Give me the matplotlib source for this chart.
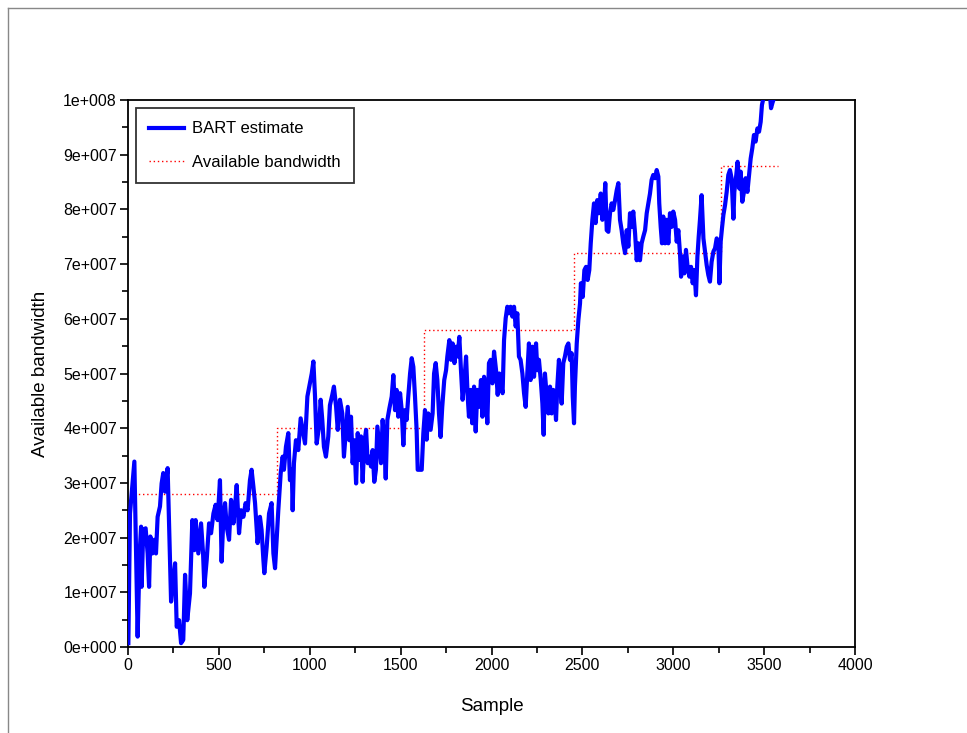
import matplotlib
matplotlib.use("Agg")
import matplotlib.pyplot as plt
from matplotlib.lines import Line2D
from matplotlib.ticker import FixedLocator, FixedFormatter, MultipleLocator

plt.rcParams['font.family'] = ['Liberation Sans', 'DejaVu Sans']

# ---- data ----
bart_sample = [
    2, 11, 35, 53, 64, 72, 75, 84, 97, 108, 116, 123, 134, 145, 154, 163, 176, 185, 194, 204,
    218, 226, 237, 249, 259, 268, 281, 292, 304, 314, 326, 341, 354, 365, 372, 387, 402, 413, 420, 433,
    446, 457, 470, 482, 493, 506, 515, 525, 534, 543, 556, 567, 580, 589, 598, 611, 622, 635, 647, 658,
    671, 680, 690, 699, 713, 726, 735, 745, 750, 763, 776, 790, 800, 809,
    827, 840, 851, 858, 869, 882, 891, 901, 906, 913, 924, 937, 950, 961, 974, 987, 1001, 1011, 1020, 1029,
    1038, 1051, 1060, 1069, 1078, 1089, 1102, 1111, 1124, 1133, 1145, 1154, 1166, 1179, 1188, 1199, 1209, 1218, 1227, 1236,
    1245, 1255, 1264, 1273, 1282, 1291, 1300, 1310, 1319, 1328, 1337, 1346, 1355, 1364, 1372, 1383, 1392, 1401, 1410, 1418,
    1427, 1438, 1451, 1460, 1469, 1478, 1487, 1497, 1506, 1515, 1524, 1533, 1542, 1552, 1561, 1570, 1579, 1588, 1594, 1603,
    1616, 1625, 1634, 1643, 1652, 1665, 1676, 1684, 1693, 1702, 1711, 1720, 1729, 1740, 1750, 1757, 1768, 1777, 1786, 1796,
    1805, 1814, 1823, 1832, 1841, 1851, 1860, 1869, 1876, 1885, 1894, 1904, 1913, 1922, 1933, 1942, 1950, 1959, 1968, 1977,
    1986, 1995, 2005, 2014, 2025, 2034, 2043, 2052, 2061, 2069, 2078, 2087, 2096, 2105, 2115, 2124, 2133, 2142, 2151, 2160,
    2170, 2179, 2188, 2197, 2206, 2215, 2225, 2234, 2245, 2252, 2261, 2271, 2280, 2287, 2294, 2304, 2313, 2322, 2331, 2340,
    2349, 2355, 2362, 2371,
    2386, 2395, 2404, 2414, 2423, 2432, 2441, 2447, 2454, 2459, 2469, 2478, 2487, 2492, 2502, 2511, 2520, 2529, 2538, 2546,
    2555, 2564, 2573, 2582, 2591, 2601, 2610, 2619, 2626, 2634, 2643, 2652, 2661, 2670, 2680, 2689, 2698, 2707, 2716, 2725,
    2735, 2744, 2753, 2762, 2771, 2780, 2790, 2799, 2808, 2817, 2826, 2835, 2845, 2854, 2863, 2872, 2881, 2890, 2900, 2909,
    2918, 2923, 2931, 2938, 2945, 2955, 2964, 2973, 2982, 2991, 3000, 3010, 3019, 3028, 3037, 3043, 3052, 3061, 3070, 3079,
    3089, 3098, 3107, 3116, 3125, 3133, 3140, 3147,
    3156, 3166, 3175, 3184, 3193, 3202, 3211, 3221, 3230, 3239, 3248, 3254, 3261, 3268, 3276, 3285, 3294, 3303, 3312, 3321,
    3331, 3336, 3345, 3354, 3364, 3371, 3380, 3389, 3398, 3408, 3417, 3426, 3435, 3444, 3453, 3463, 3472, 3481, 3488, 3496,
    3505, 3520, 3532, 3538, 3546, 3554, 3562,
]
bart_mbps = [
    0.7, 24.4, 33.9, 1.9, 17.1, 22.0, 11.0, 21.4, 21.7, 17.1, 11.0, 20.2, 17.1, 19.6, 17.1, 23.8, 25.7, 29.9, 31.8, 28.4,
    32.7, 22.6, 8.3, 12.3, 15.3, 3.7, 4.9, 0.7, 1.3, 13.2, 4.9, 9.8, 23.2, 17.7, 23.2, 17.1, 22.6, 17.1, 11.0, 15.9,
    22.6, 20.8, 24.4, 26.0, 23.2, 30.5, 15.6, 23.8, 26.3, 22.0, 19.6, 26.9, 22.6, 25.7, 29.6, 20.8, 25.0, 23.8, 26.3, 25.0,
    30.5, 32.4, 29.3, 26.3, 19.0, 23.8, 21.4, 15.9, 13.5, 18.3, 24.4, 26.3, 17.1, 14.4,
    25.0, 31.7, 34.8, 32.4, 36.6, 39.1, 30.5, 32.4, 25.0, 33.6, 37.8, 36.0, 41.8, 39.7, 37.2, 45.8, 48.2, 50.0, 52.2, 45.8,
    37.2, 40.3, 45.2, 41.5, 36.6, 34.8, 38.5, 44.2, 46.1, 47.6, 43.9, 39.7, 45.2, 42.7, 34.8, 39.7, 43.9, 37.8, 42.1, 33.6,
    37.8, 29.9, 39.1, 34.2, 38.5, 30.2, 37.2, 39.7, 33.6, 34.8, 33.0, 36.0, 30.2, 32.4, 40.3, 36.6, 33.6, 41.5, 37.8, 30.8,
    41.5, 43.6, 45.8, 49.7, 43.3, 47.0, 42.1, 46.4, 43.3, 36.9, 43.3, 41.5, 45.8, 50.0, 52.8, 51.2, 45.8, 39.7, 32.4, 32.4,
    32.4, 39.1, 43.3, 37.9, 42.7, 39.7, 42.7, 50.0, 51.9, 48.8, 42.7, 38.4, 43.9, 48.8, 50.6, 53.1, 56.1, 52.5, 55.5, 51.9,
    54.9, 53.1, 56.7, 50.6, 45.2, 48.8, 53.1, 45.8, 42.1, 47.0, 40.9, 47.6, 39.4, 47.0, 43.9, 48.8, 42.1, 49.4, 47.0, 40.9,
    51.9, 52.5, 48.2, 54.0, 50.6, 46.1, 50.0, 48.2, 46.4, 56.1, 60.1, 62.2, 61.0, 62.2, 60.4, 62.2, 58.6, 61.0, 53.1, 52.5,
    50.0, 46.4, 43.9, 50.0, 55.5, 48.8, 54.9, 49.4, 55.5, 50.6, 52.5, 48.8, 44.5, 38.8, 50.0, 45.8, 42.7, 47.6, 42.7, 47.0,
    44.5, 41.5, 47.6, 52.5,
    44.5, 51.9, 53.1, 54.9, 55.5, 52.5, 53.7, 45.8, 40.9, 47.6, 55.5, 59.8, 62.8, 66.5, 64.0, 68.9, 69.5, 67.1, 68.9, 73.8,
    78.1, 81.1, 77.5, 81.7, 79.3, 82.9, 78.1, 80.5, 84.8, 76.2, 75.9, 79.3, 81.1, 79.9, 81.7, 83.5, 84.8, 78.1, 76.2, 73.8,
    72.0, 76.2, 73.2, 79.3, 76.8, 79.6, 75.6, 70.7, 73.8, 70.7, 73.8, 75.0, 76.2, 79.3, 81.1, 82.9, 85.4, 86.3, 85.7, 87.2,
    86.0, 81.1, 76.8, 73.8, 78.7, 73.8, 78.1, 73.8, 79.3, 76.8, 79.6, 78.1, 74.1, 76.2, 72.0, 67.7, 71.4, 68.3, 72.6, 69.5,
    67.7, 69.5, 66.5, 68.9, 64.3, 71.4, 75.0, 78.1,
    82.6, 74.7, 72.3, 69.8, 68.0, 66.8, 70.4, 72.3, 72.9, 74.7, 74.1, 66.5, 74.1, 76.5, 79.0, 80.8, 83.2, 86.3, 87.2, 85.7,
    78.3, 83.2, 85.7, 88.7, 83.8, 86.9, 81.4, 83.2, 85.7, 83.2, 86.3, 89.3, 91.2, 93.6, 92.4, 94.8, 94.2, 96.0, 99.1, 100.3,
    101.5, 102.5, 101.0, 98.5, 99.5, 100.3, 101.5,
]

avail_sample = [10, 820, 1630, 2452, 3263, 3578]
avail_mbps = [28.0, 40.0, 58.0, 72.0, 88.0, 88.0]

x_ticks = [0, 500, 1000, 1500, 2000, 2500, 3000, 3500, 4000]
x_ticklabels = ['0', '500', '1000', '1500', '2000', '2500', '3000', '3500', '4000']
y_ticks = [0, 1e7, 2e7, 3e7, 4e7, 5e7, 6e7, 7e7, 8e7, 9e7, 1e8]
y_ticklabels = ['0e+000', '1e+007', '2e+007', '3e+007', '4e+007', '5e+007',
                '6e+007', '7e+007', '8e+007', '9e+007', '1e+008']

# ---- figure ----
W, H = 967, 733
fig = plt.figure(figsize=(W / 100, H / 100), dpi=100)
ax = fig.add_axes([128 / W, 1 - 647 / H, (855 - 128) / W, (647 - 100) / H])

bart_y = [v * 1e6 for v in bart_mbps]
avail_y = [v * 1e6 for v in avail_mbps]

ax.plot(bart_sample, bart_y, color='#0000ff', lw=3.0, solid_joinstyle='round',
        label='BART estimate', zorder=3)
ax.plot(avail_sample, avail_y, color='#ff0000', lw=1.0, linestyle=(0, (1, 2)),
        drawstyle='steps-post', label='Available bandwidth', zorder=2)

ax.set_xlim(0, 4000)
ax.set_ylim(0, 1e8)
ax.xaxis.set_major_locator(FixedLocator(x_ticks))
ax.xaxis.set_major_formatter(FixedFormatter(x_ticklabels))
ax.xaxis.set_minor_locator(MultipleLocator(250))
ax.yaxis.set_major_locator(FixedLocator(y_ticks))
ax.yaxis.set_major_formatter(FixedFormatter(y_ticklabels))
ax.yaxis.set_minor_locator(MultipleLocator(5e6))

ax.tick_params(which='major', direction='out', length=6, width=1.2, labelsize=11.5, pad=2)
ax.tick_params(which='minor', direction='out', length=4.5, width=1.2)
ax.tick_params(top=False, right=False, which='both')
for s in ax.spines.values():
    s.set_linewidth(1.3)
    s.set_color('black')

ax.set_xlabel('Sample', fontsize=13.5, labelpad=18)
ax.set_ylabel('Available bandwidth', fontsize=13.5, labelpad=10)

leg = ax.legend(loc='upper left', bbox_to_anchor=(8 / 727, 1 - 8 / 547), borderaxespad=0,
                fontsize=12, frameon=True, fancybox=False, edgecolor='black',
                handlelength=2.1, handletextpad=0.45,
                labelspacing=1.1, borderpad=0.8)
leg.get_frame().set_linewidth(1.3)

# outer gray page frame (top and left)
fig.add_artist(Line2D([7.5 / W, 1], [1 - 7.5 / H, 1 - 7.5 / H], color='#888888', lw=1.0))
fig.add_artist(Line2D([7.5 / W, 7.5 / W], [0, 1 - 7.5 / H], color='#888888', lw=1.0))

fig.savefig('out.png', dpi=100)
